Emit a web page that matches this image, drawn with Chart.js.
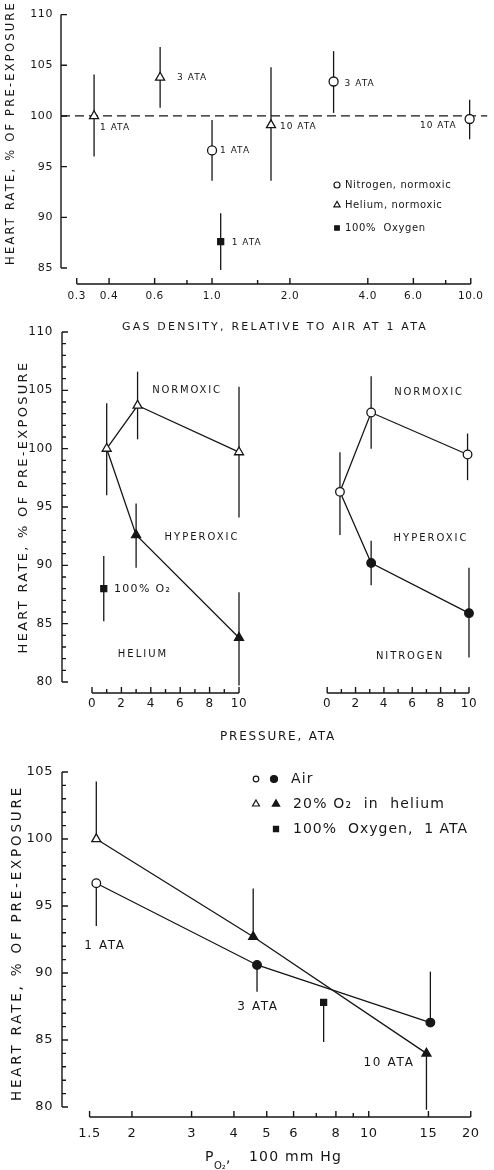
<!DOCTYPE html>
<html>
<head>
<meta charset="utf-8">
<script src="https://cdn.jsdelivr.net/npm/chart.js@4.4.1/dist/chart.umd.min.js"></script>
<style>
  html, body { margin: 0; padding: 0; background: #fff; }
  #wrap { position: relative; width: 494px; height: 1170px; }
  #wrap canvas { position: absolute; left: 0; top: 0; }
</style>
</head>
<body>
<div id="wrap">
  <canvas id="densityChart" width="494" height="1170"></canvas>
  <canvas id="heliumChart" width="494" height="1170"></canvas>
  <canvas id="nitrogenChart" width="494" height="1170"></canvas>
  <canvas id="po2Chart" width="494" height="1170"></canvas>
</div>
<script>
// --- DATOS ---
// Panel 1: frecuencia cardiaca vs densidad del gas
const densHe = [0.35, 0.63, 1.69];
const hrHe = [100, 103.8, 99.1];
const loHe = [96.0, 100.8, 93.6];
const hiHe = [104.1, 106.8, 104.8];

const densN2 = [1.0, 2.95, 9.9];
const hrN2 = [96.6, 103.4, 99.7];
const loN2 = [93.6, 100.3, 97.7];
const hiN2 = [99.6, 106.4, 101.6];

const densO2 = [1.08];
const hrO2 = [87.6];
const loO2 = [84.8];
const hiO2 = [90.4];

const refLine = 100;
const p1TickX = [0.3, 0.4, 0.6, 1, 2, 4, 6, 10];
const p1TickLabels = ['0.3', '0.4', '0.6', '1.0', '2.0', '4.0', '6.0', '10.0'];
const p1MinorX = [0.8, 1.5, 8];
const p1TickY = [85, 90, 95, 100, 105, 110];

// Panel 2: frecuencia cardiaca vs presion
const pressHeNorm = [1, 3.1, 10];
const hrHeNorm = [100, 103.7, 99.7];
const loHeNorm = [96.0, 100.8, 94.1];
const hiHeNorm = [103.9, 106.6, 105.3];

const pressHeHyper = [1, 3.0, 10];
const hrHeHyper = [100, 92.6, 83.8];
const loHeHyper = [null, 89.8, 79.7];
const hiHeHyper = [null, 95.3, 87.7];

const pressO2 = [0.8];
const hrO2Press = [88.0];
const loO2Press = [85.2];
const hiO2Press = [90.8];

const pressN2Norm = [0.9, 3.1, 9.9];
const hrN2Norm = [96.3, 103.1, 99.5];
const loN2Norm = [92.6, 100.0, 97.3];
const hiN2Norm = [99.7, 106.2, 101.3];

const pressN2Hyper = [0.9, 3.1, 10];
const hrN2Hyper = [96.3, 90.2, 85.9];
const loN2Hyper = [null, 88.3, 82.1];
const hiN2Hyper = [null, 92.1, 89.8];

const p2TickX = [0, 2, 4, 6, 8, 10];
const p2TickLabels = ['0', '2', '4', '6', '8', '10'];
const p2MinorX = [1, 3, 5, 7, 9];
const p2TickY = [80, 85, 90, 95, 100, 105, 110];

// Panel 3: frecuencia cardiaca vs PO2
const po2Air = [1.57, 4.68, 15.2];
const hrAir = [96.7, 90.6, 86.3];
const loAir = [93.5, 88.6, 86.3];
const hiAir = [96.7, 90.6, 90.1];

const po2Helium = [1.57, 4.56, 14.8];
const hrHelium = [100, 92.7, 84.0];
const loHelium = [100, 92.7, 79.8];
const hiHelium = [104.3, 96.3, 84.0];

const po2Oxygen = [7.36];
const hrOxygen = [87.8];
const loOxygen = [84.85];
const hiOxygen = [87.8];

const p3TickX = [1.5, 2, 3, 4, 5, 6, 8, 10, 15, 20];
const p3TickLabels = ['1.5', '2', '3', '4', '5', '6', '8', '10', '15', '20'];
const p3MinorX = [7, 9];
const p3TickY = [80, 85, 90, 95, 100, 105];

// --- ESTILO ---
const ink = '#161616';
const fontFam = '"DejaVu Sans", sans-serif';

function pts(xs, ys) { return xs.map((x, i) => ({ x, y: ys[i] })); }
function minorRange(a, b) {
    const out = [];
    for (let v = a; v <= b; v++) if (v % 5 !== 0) out.push(v);
    return out;
}

// --- PLUGIN: ejes, barras de error y textos ---
function drawText(ctx, t) {
    ctx.save();
    ctx.font = `${t.size || 10}px ${fontFam}`;
    ctx.letterSpacing = (t.sp || 0) + 'px';
    ctx.fillStyle = ink;
    ctx.textAlign = t.align || 'center';
    ctx.textBaseline = 'middle';
    ctx.translate(t.x, t.y);
    if (t.rot) ctx.rotate(t.rot * Math.PI / 180);
    ctx.fillText(t.t, 0, 0);
    ctx.restore();
}

const figPlugin = {
    id: 'fig',
    beforeDraw(chart) {
        chart.ctx.letterSpacing = '0.6px';
    },
    beforeDatasetsDraw(chart) {
        const ctx = chart.ctx;
        const xs = chart.scales.x, ys = chart.scales.y;
        ctx.save();
        ctx.strokeStyle = ink;
        ctx.lineWidth = 1.3;
        chart.data.datasets.forEach(ds => {
            if (!ds.errLo) return;
            ds.data.forEach((p, i) => {
                const lo = ds.errLo[i], hi = ds.errHi[i];
                if (lo == null || hi == null) return;
                const px = xs.getPixelForValue(p.x);
                ctx.beginPath();
                ctx.moveTo(px, ys.getPixelForValue(lo));
                ctx.lineTo(px, ys.getPixelForValue(hi));
                ctx.stroke();
            });
        });
        ctx.restore();
    },
    afterDraw(chart, args, opts) {
        const ctx = chart.ctx;
        const ca = chart.chartArea;
        const xs = chart.scales.x, ys = chart.scales.y;
        const ax = opts.axes;

        // ejes con marcas hacia dentro
        ctx.save();
        ctx.strokeStyle = ink;
        ctx.lineWidth = 1.4;
        ctx.beginPath();
        if (ax.y) {
            const x0 = ca.left;
            ctx.moveTo(x0, ys.getPixelForValue(ax.y.from));
            ctx.lineTo(x0, ys.getPixelForValue(ax.y.to));
            ax.y.major.forEach(v => { const p = ys.getPixelForValue(v); ctx.moveTo(x0, p); ctx.lineTo(x0 + 6, p); });
            (ax.y.minor || []).forEach(v => { const p = ys.getPixelForValue(v); ctx.moveTo(x0, p); ctx.lineTo(x0 + 4, p); });
        }
        if (ax.x) {
            const y0 = ca.bottom;
            ctx.moveTo(xs.getPixelForValue(ax.x.from), y0);
            ctx.lineTo(xs.getPixelForValue(ax.x.to), y0);
            ax.x.major.forEach(v => { const p = xs.getPixelForValue(v); ctx.moveTo(p, y0); ctx.lineTo(p, y0 - 6); });
            (ax.x.minor || []).forEach(v => { const p = xs.getPixelForValue(v); ctx.moveTo(p, y0); ctx.lineTo(p, y0 - 4); });
        }
        ctx.stroke();
        ctx.restore();

        // etiquetas junto a los puntos
        (opts.pointLabels || []).forEach(l => {
            const el = chart.getDatasetMeta(l.ds).data[l.i];
            drawText(ctx, { t: l.t, x: el.x + l.dx, y: el.y + l.dy, align: l.align || 'left', size: l.size, sp: l.sp });
        });

        // simbolos de leyenda
        (opts.marks || []).forEach(m => {
            ctx.save();
            ctx.fillStyle = m.fill ? ink : '#fff';
            ctx.strokeStyle = ink;
            ctx.lineWidth = 1.2;
            Chart.helpers.drawPoint(ctx, { pointStyle: m.style, rotation: 0, radius: m.r, borderWidth: 1.2 }, m.x, m.y);
            ctx.restore();
        });

        (opts.texts || []).forEach(t => drawText(ctx, t));
    }
};

function xScale(type, min, max, ticks, labels, size, pad) {
    return {
        type, min, max, position: 'bottom',
        grid: { display: false, drawTicks: false },
        border: { display: false },
        afterBuildTicks: s => { s.ticks = ticks.map(v => ({ value: v })); },
        afterFit: s => { s.height = 30; },
        ticks: {
            autoSkip: false, maxRotation: 0, minRotation: 0, padding: pad, color: ink,
            font: { family: fontFam, size },
            callback: (v, i) => labels[i]
        }
    };
}

function yScale(min, max, ticks, size, pad, width, show) {
    return {
        type: 'linear', min, max, display: show,
        grid: { display: false, drawTicks: false },
        border: { display: false },
        afterBuildTicks: s => { s.ticks = ticks.map(v => ({ value: v })); },
        afterFit: s => { s.width = width; },
        ticks: { padding: pad, color: ink, font: { family: fontFam, size }, callback: v => String(v) }
    };
}

function series(xs, ys, style, r, fill, extra) {
    return Object.assign({
        data: pts(xs, ys),
        pointStyle: style,
        pointRadius: r,
        pointBackgroundColor: fill,
        pointBorderColor: ink,
        pointBorderWidth: 1.3,
        borderColor: ink,
        borderWidth: 1.3,
        showLine: false
    }, extra || {});
}

function makeChart(id, datasets, padding, scales, fig) {
    return new Chart(document.getElementById(id), {
        type: 'scatter',
        data: { datasets },
        options: {
            responsive: false, animation: false, devicePixelRatio: 1,
            layout: { padding },
            plugins: { legend: { display: false }, tooltip: { enabled: false }, fig },
            scales
        },
        plugins: [figPlugin]
    });
}

// --- PANEL 1 ---
const p1XMin = 0.26075, p1XMax = 11.606;
makeChart('densityChart', [
    series(densHe, hrHe, 'triangle', 5.2, '#fff', { errLo: loHe, errHi: hiHe }),
    series(densN2, hrN2, 'circle', 4.5, '#fff', { errLo: loN2, errHi: hiN2 }),
    series(densO2, hrO2, 'rect', 4.2, ink, { errLo: loO2, errHi: hiO2 }),
    { data: pts([p1XMin, p1XMax], [refLine, refLine]), showLine: true, pointRadius: 0,
      borderColor: ink, borderWidth: 1.2, borderDash: [9, 5] }
], { top: 14, left: 0, right: 0, bottom: 856 }, {
    x: xScale('logarithmic', p1XMin, p1XMax, p1TickX, p1TickLabels, 10.5, 6),
    y: yScale(83.425, 110, p1TickY, 11, 8, 61, true)
}, {
    axes: {
        x: { from: 0.3, to: 10, major: p1TickX, minor: p1MinorX },
        y: { from: 85, to: 110, major: p1TickY }
    },
    pointLabels: [
        { ds: 0, i: 0, t: '1 ATA', dx: 6, dy: 12, size: 9, sp: 1 },
        { ds: 0, i: 1, t: '3 ATA', dx: 17, dy: 0, size: 9, sp: 1 },
        { ds: 0, i: 2, t: '10 ATA', dx: 9, dy: 2, size: 9, sp: 1 },
        { ds: 1, i: 0, t: '1 ATA', dx: 8, dy: 0, size: 9, sp: 1 },
        { ds: 1, i: 1, t: '3 ATA', dx: 11, dy: 2, size: 9, sp: 1 },
        { ds: 1, i: 2, t: '10 ATA', dx: -13, dy: 7, size: 9, sp: 1, align: 'right' },
        { ds: 2, i: 0, t: '1 ATA', dx: 11, dy: 1, size: 9, sp: 1 }
    ],
    marks: [
        { x: 337, y: 185, style: 'circle', r: 3, fill: false },
        { x: 337, y: 205, style: 'triangle', r: 3.6, fill: false },
        { x: 337, y: 228, style: 'rect', r: 3.2, fill: true }
    ],
    texts: [
        { t: 'Nitrogen, normoxic', x: 345, y: 185, align: 'left', size: 10, sp: 0.6 },
        { t: 'Helium, normoxic', x: 345, y: 205, align: 'left', size: 10, sp: 0.6 },
        { t: '100%  Oxygen', x: 345, y: 228, align: 'left', size: 10, sp: 0.6 },
        { t: 'HEART RATE, % OF PRE-EXPOSURE', x: 11, y: 133, rot: -90, size: 11.5, sp: 2.2 },
        { t: 'GAS DENSITY, RELATIVE TO AIR AT 1 ATA', x: 275, y: 327, size: 11, sp: 2.2 }
    ]
});

// --- PANEL 2 (helio, izquierda) ---
makeChart('heliumChart', [
    series(pressHeNorm, hrHeNorm, 'triangle', 5.2, '#fff', { showLine: true, errLo: loHeNorm, errHi: hiHeNorm }),
    series(pressHeHyper, hrHeHyper, 'triangle', [0, 5.2, 5.2], ink, { showLine: true, errLo: loHeHyper, errHi: hiHeHyper }),
    series(pressO2, hrO2Press, 'rect', 4.2, ink, { errLo: loO2Press, errHi: hiO2Press })
], { top: 332, left: 0, right: 244, bottom: 447 }, {
    x: xScale('linear', -2.041, 10.748, p2TickX, p2TickLabels, 12, 4),
    y: yScale(79.057, 110, p2TickY, 12, 9, 62, true)
}, {
    axes: {
        x: { from: 0, to: 10, major: p2TickX, minor: p2MinorX },
        y: { from: 80, to: 110, major: p2TickY, minor: minorRange(80, 110) }
    },
    texts: [
        { t: 'NORMOXIC', x: 187, y: 390, size: 10, sp: 1.8 },
        { t: 'HYPEROXIC', x: 202, y: 537, size: 10, sp: 2 },
        { t: '100% O₂', x: 114, y: 589, align: 'left', size: 11, sp: 1.3 },
        { t: 'HELIUM', x: 143, y: 654, size: 10, sp: 2 },
        { t: 'PRESSURE, ATA', x: 278, y: 737, size: 12, sp: 1.8 },
        { t: 'HEART RATE, % OF PRE-EXPOSURE', x: 24, y: 507, rot: -90, size: 13, sp: 2.3 }
    ]
});

// --- PANEL 2 (nitrogeno, derecha) ---
makeChart('nitrogenChart', [
    series(pressN2Norm, hrN2Norm, 'circle', 4.3, '#fff', { showLine: true, errLo: loN2Norm, errHi: hiN2Norm }),
    series(pressN2Hyper, hrN2Hyper, 'circle', [0, 4.3, 4.3], ink, { showLine: true, errLo: loN2Hyper, errHi: hiN2Hyper })
], { top: 332, left: 300, right: 0, bottom: 447 }, {
    x: xScale('linear', -1.918, 11.370, p2TickX, p2TickLabels, 12, 4),
    y: yScale(79.057, 110, p2TickY, 12, 9, 0, false)
}, {
    axes: {
        x: { from: 0, to: 10, major: p2TickX, minor: p2MinorX },
        y: null
    },
    texts: [
        { t: 'NORMOXIC', x: 429, y: 392, size: 10, sp: 1.8 },
        { t: 'HYPEROXIC', x: 431, y: 538, size: 10, sp: 2 },
        { t: 'NITROGEN', x: 410, y: 656, size: 10, sp: 1.9 }
    ]
});

// --- PANEL 3 ---
makeChart('po2Chart', [
    series(po2Helium, hrHelium, 'triangle', 5.2, ['#fff', ink, ink], { showLine: true, errLo: loHelium, errHi: hiHelium }),
    series(po2Air, hrAir, 'circle', 4.3, ['#fff', ink, ink], { showLine: true, errLo: loAir, errHi: hiAir }),
    series(po2Oxygen, hrOxygen, 'rect', 4.2, ink, { errLo: loOxygen, errHi: hiOxygen })
], { top: 772, left: 0, right: 0, bottom: 23 }, {
    x: xScale('logarithmic', 1.2436, 22.41, p3TickX, p3TickLabels, 13, 9),
    y: yScale(79.254, 105, p3TickY, 13, 9, 62, true)
}, {
    axes: {
        x: { from: 1.5, to: 20, major: p3TickX, minor: p3MinorX },
        y: { from: 80, to: 105, major: p3TickY, minor: minorRange(80, 105) }
    },
    marks: [
        { x: 256, y: 779, style: 'circle', r: 2.8, fill: false },
        { x: 274, y: 779, style: 'circle', r: 3.5, fill: true },
        { x: 256, y: 804, style: 'triangle', r: 4, fill: false },
        { x: 276, y: 804, style: 'triangle', r: 4.2, fill: true },
        { x: 276, y: 829, style: 'rect', r: 3.6, fill: true }
    ],
    texts: [
        { t: 'Air', x: 291, y: 779, align: 'left', size: 14, sp: 1.2 },
        { t: '20% O₂  in  helium', x: 293, y: 804, align: 'left', size: 14, sp: 1.2 },
        { t: '100%  Oxygen,  1 ATA', x: 293, y: 829, align: 'left', size: 14, sp: 1 },
        { t: '1 ATA', x: 105, y: 946, size: 12, sp: 1.6 },
        { t: '3 ATA', x: 258, y: 1007, size: 12, sp: 1.6 },
        { t: '10 ATA', x: 389, y: 1063, size: 12, sp: 1.7 },
        { t: 'P', x: 205, y: 1157, align: 'left', size: 14 },
        { t: 'O₂', x: 214, y: 1166, align: 'left', size: 10 },
        { t: ',', x: 226, y: 1158, align: 'left', size: 14 },
        { t: '100 mm Hg', x: 249, y: 1157, align: 'left', size: 14, sp: 1.2 },
        { t: 'HEART RATE, % OF PRE-EXPOSURE', x: 17, y: 943, rot: -90, size: 13.5, sp: 2.8 }
    ]
});
</script>
</body>
</html>
